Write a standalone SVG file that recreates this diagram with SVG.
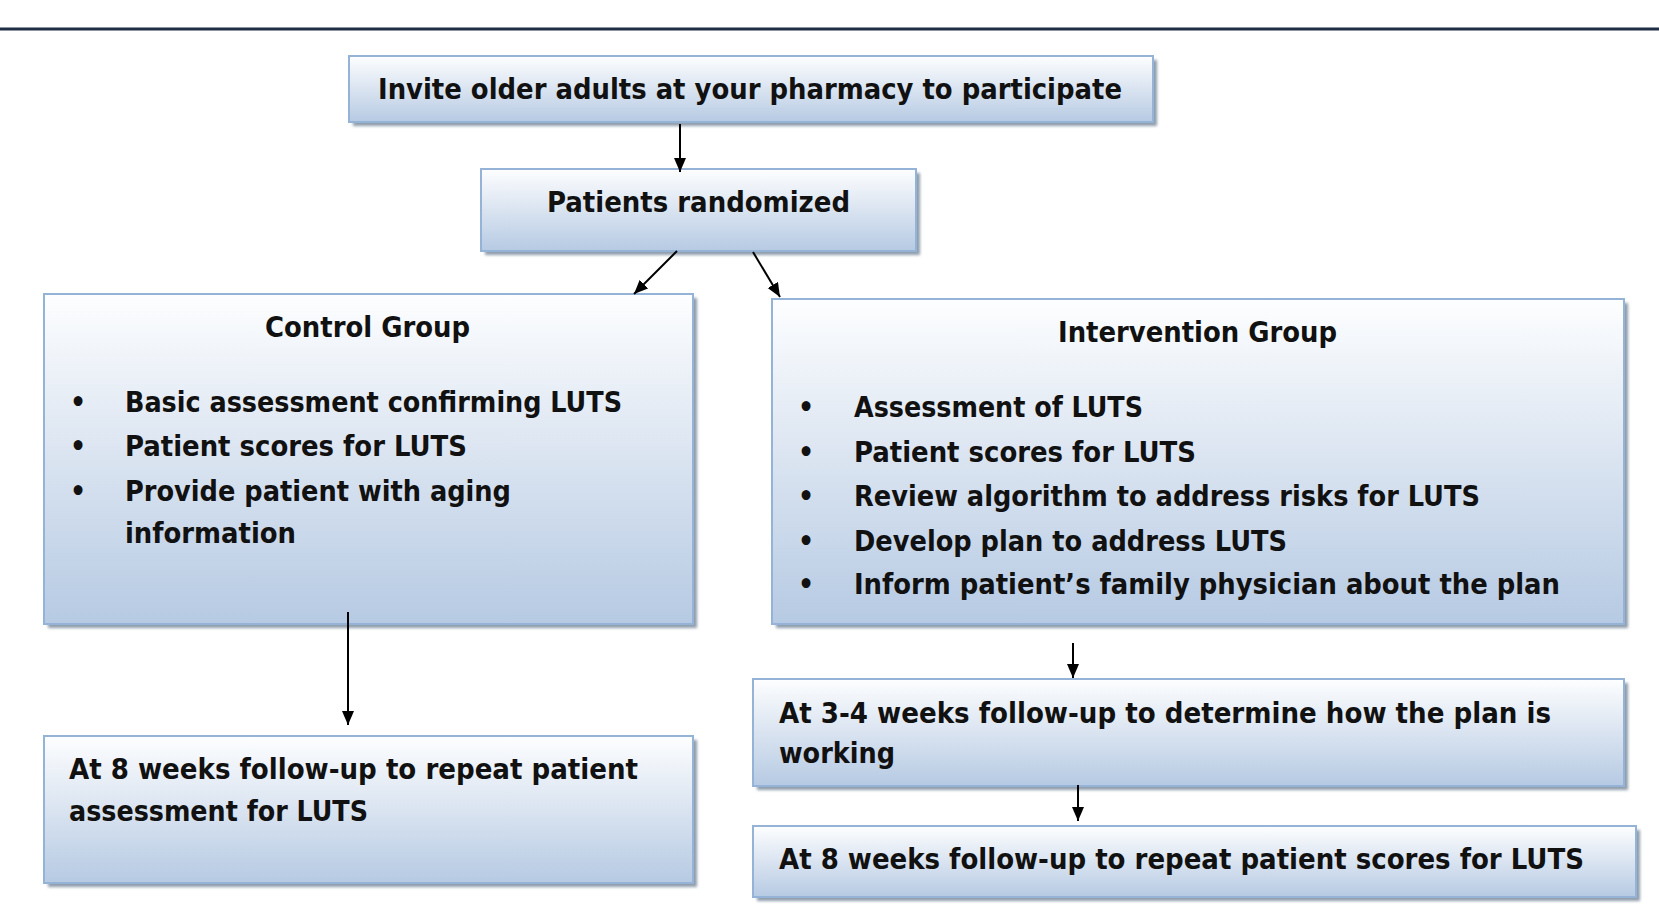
<svg xmlns="http://www.w3.org/2000/svg" width="1659" height="905" viewBox="0 0 1659 905">
<style>
.box{fill:url(#g);stroke:#95b3d7;stroke-width:2}
.sh{fill:#8f9cab;filter:url(#blur)}
.t{font-family:"DejaVu Sans Condensed","DejaVu Sans",sans-serif;font-stretch:condensed;font-weight:bold;font-size:28px;fill:#111}
.ln{stroke:#000;stroke-width:2;fill:none;marker-end:url(#ah)}
</style>
<defs>
<linearGradient id="g" x1="0" y1="0" x2="0" y2="1">
<stop offset="0" stop-color="#fdfeff"/>
<stop offset="0.3" stop-color="#e8eef6"/>
<stop offset="1" stop-color="#b6cae3"/>
</linearGradient>
<filter id="blur" x="-5%" y="-5%" width="110%" height="110%"><feGaussianBlur stdDeviation="1.5"/></filter>
<marker id="ah" markerWidth="14" markerHeight="14" refX="14" refY="6" orient="auto" markerUnits="userSpaceOnUse" viewBox="0 0 14 12">
<path d="M0,0 L14,6 L0,12 Z" fill="#000"/>
</marker>
</defs>
<rect width="1659" height="905" fill="#fff"/>
<line x1="0" y1="29" x2="1659" y2="29" stroke="#1f2d45" stroke-width="3"/>

<g id="invite">
<rect class="sh" x="353" y="60" width="804" height="66"/>
<rect class="box" x="349" y="56" width="804" height="66"/>
<text class="t" x="378" y="99" textLength="744" lengthAdjust="spacingAndGlyphs">Invite older adults at your pharmacy to participate</text>
</g>
<g id="randomized">
<rect class="sh" x="485" y="173" width="435" height="82"/>
<rect class="box" x="481" y="169" width="435" height="82"/>
<text class="t" x="547" y="212" textLength="303" lengthAdjust="spacingAndGlyphs">Patients randomized</text>
</g>
<g id="control">
<rect class="sh" x="48" y="298" width="649" height="330"/>
<rect class="box" x="44" y="294" width="649" height="330"/>
<text class="t" x="265" y="337" textLength="205" lengthAdjust="spacingAndGlyphs">Control Group</text>
<text class="t" x="70" y="412">•</text><text class="t" x="125" y="412" textLength="497" lengthAdjust="spacingAndGlyphs">Basic assessment confirming LUTS</text>
<text class="t" x="70" y="456">•</text><text class="t" x="125" y="456" textLength="342" lengthAdjust="spacingAndGlyphs">Patient scores for LUTS</text>
<text class="t" x="70" y="501">•</text><text class="t" x="125" y="501" textLength="386" lengthAdjust="spacingAndGlyphs">Provide patient with aging</text>
<text class="t" x="125" y="543" textLength="171" lengthAdjust="spacingAndGlyphs">information</text>
</g>
<g id="intervention">
<rect class="sh" x="776" y="303" width="852" height="325"/>
<rect class="box" x="772" y="299" width="852" height="325"/>
<text class="t" x="1058" y="342" textLength="279" lengthAdjust="spacingAndGlyphs">Intervention Group</text>
<text class="t" x="798" y="417">•</text><text class="t" x="854" y="417" textLength="289" lengthAdjust="spacingAndGlyphs">Assessment of LUTS</text>
<text class="t" x="798" y="462">•</text><text class="t" x="854" y="462" textLength="342" lengthAdjust="spacingAndGlyphs">Patient scores for LUTS</text>
<text class="t" x="798" y="506">•</text><text class="t" x="854" y="506" textLength="626" lengthAdjust="spacingAndGlyphs">Review algorithm to address risks for LUTS</text>
<text class="t" x="798" y="551">•</text><text class="t" x="854" y="551" textLength="433" lengthAdjust="spacingAndGlyphs">Develop plan to address LUTS</text>
<text class="t" x="798" y="594">•</text><text class="t" x="854" y="594" textLength="706" lengthAdjust="spacingAndGlyphs">Inform patient’s family physician about the plan</text>
</g>
<g id="control-followup">
<rect class="sh" x="48" y="740" width="649" height="147"/>
<rect class="box" x="44" y="736" width="649" height="147"/>
<text class="t" x="69" y="779" textLength="569" lengthAdjust="spacingAndGlyphs">At 8 weeks follow-up to repeat patient</text>
<text class="t" x="69" y="821" textLength="299" lengthAdjust="spacingAndGlyphs">assessment for LUTS</text>
</g>
<g id="followup-3-4">
<rect class="sh" x="757" y="683" width="871" height="107"/>
<rect class="box" x="753" y="679" width="871" height="107"/>
<text class="t" x="779" y="723" textLength="772" lengthAdjust="spacingAndGlyphs">At 3-4 weeks follow-up to determine how the plan is</text>
<text class="t" x="779" y="763" textLength="116" lengthAdjust="spacingAndGlyphs">working</text>
</g>
<g id="followup-8">
<rect class="sh" x="757" y="830" width="883" height="71"/>
<rect class="box" x="753" y="826" width="883" height="71"/>
<text class="t" x="779" y="869" textLength="805" lengthAdjust="spacingAndGlyphs">At 8 weeks follow-up to repeat patient scores for LUTS</text>
</g>

<g id="connectors">
<line class="ln" x1="680" y1="124" x2="680" y2="172"/>
<line class="ln" x1="677" y1="251" x2="634" y2="294"/>
<line class="ln" x1="753" y1="252" x2="780" y2="297"/>
<line class="ln" x1="348" y1="612" x2="348" y2="725"/>
<line class="ln" x1="1073" y1="643" x2="1073" y2="678"/>
<line class="ln" x1="1078" y1="785" x2="1078" y2="821"/>
</g>
</svg>
